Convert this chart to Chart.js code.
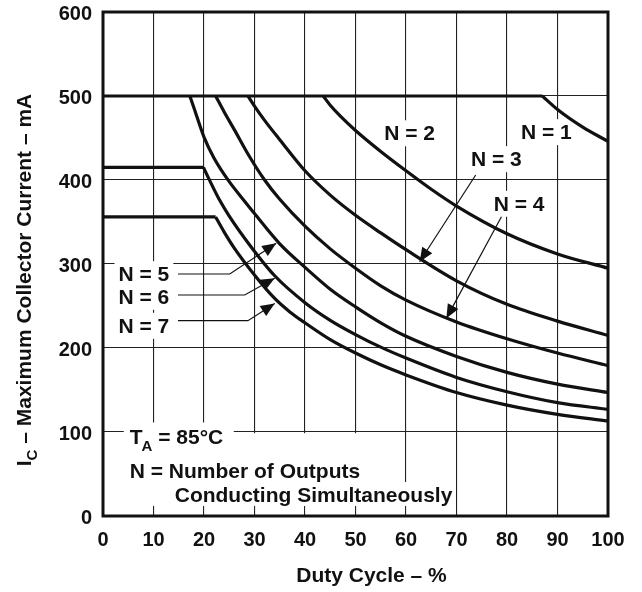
<!DOCTYPE html>
<html>
<head>
<meta charset="utf-8">
<script src="https://cdn.jsdelivr.net/npm/chart.js@4.4.1/dist/chart.umd.min.js"></script>
<style>
html,body{margin:0;padding:0;background:#fff;}
#wrap{width:642px;height:592px;position:relative;}
</style>
</head>
<body>
<div id="wrap"><canvas id="c" width="642" height="592"></canvas></div>
<script>
// ---- data ----
const xTicks = [0, 10, 20, 30, 40, 50, 60, 70, 80, 90, 100];
const yTicks = [0, 100, 200, 300, 400, 500, 600];

// flat (current-limited) segments: level and duty cycle where it ends
const flatLevels = [500, 415, 356];
const flatEnds   = [87, 19.9, 22.3];

// curves after the break point, per number of outputs N
const n1X = [87, 90, 95, 100];
const n1Y = [500, 484, 463, 446];
const n2X = [43.6, 45, 47, 50, 55, 60, 65, 70, 80, 90, 100];
const n2Y = [500, 489, 476, 459, 434, 411, 389, 369, 336, 312, 295];
const n3X = [28.7, 30, 32, 35, 40, 45, 50, 55, 60, 70, 80, 90, 100];
const n3Y = [500, 488, 471, 448, 411, 382, 358, 337, 317, 280, 252, 232, 215];
const n4X = [22.3, 24, 26, 29, 32, 35, 40, 45, 50, 55, 60, 70, 80, 90, 100];
const n4Y = [500, 481, 460, 428, 400, 377, 345, 318, 295, 274, 257, 231, 211, 194, 179];
const n5X = [17.2, 18, 20, 22, 25, 28, 30, 35, 40, 45, 50, 55, 60, 70, 80, 90, 100];
const n5Y = [500, 486, 451, 426, 398, 375, 360, 324, 296, 270, 249, 230, 214, 190, 171, 157, 147];
const n6X = [19.9, 21, 23, 25, 29, 34, 40, 45, 50, 55, 60, 70, 80, 90, 100];
const n6Y = [415, 401, 377, 357, 323, 286, 254, 233, 216, 201, 188, 165, 148, 135, 127];
const n7X = [22.3, 24, 26, 30, 34, 37, 40, 45, 50, 55, 60, 70, 80, 90, 100];
const n7Y = [356, 338, 319, 287, 259, 243, 230, 210, 194, 180, 168, 147, 132, 121, 113];

const curveLabels = ['N = 1', 'N = 2', 'N = 3', 'N = 4', 'N = 5', 'N = 6', 'N = 7'];
const xTitle = 'Duty Cycle \u2013 %';
const yTitleMain = 'I';
const yTitleSub = 'C';
const yTitleRest = ' \u2013 Maximum Collector Current \u2013 mA';
const noteLines = ['T', 'A', ' = 85\u00B0C', 'N = Number of Outputs', 'Conducting Simultaneously'];

// ---- build datasets ----
const FONT = '"Liberation Sans", Arial, Helvetica, sans-serif';
const INK = '#111';
function pts(xs, ys){ return xs.map((x, i) => ({x: x, y: ys[i]})); }
const datasets = [];
flatLevels.forEach((lv, i) => {
  datasets.push({ data: pts([0, flatEnds[i]], [lv, lv]), tension: 0 });
});
[[n1X,n1Y],[n2X,n2Y],[n3X,n3Y],[n4X,n4Y],[n5X,n5Y],[n6X,n6Y],[n7X,n7Y]].forEach((s, i) => {
  datasets.push({ label: curveLabels[i], data: pts(s[0], s[1]), cubicInterpolationMode: 'monotone' });
});
datasets.forEach(d => {
  d.showLine = true; d.borderColor = INK; d.borderWidth = 3.2; d.pointRadius = 0;
  d.pointHoverRadius = 0; d.fill = false;
});

// annotation placement in data units
const labelPos = [
  {t: 0, x: 87.8, y: 457}, {t: 1, x: 60.7, y: 455.6},
  {t: 2, x: 77.9, y: 424.8}, {t: 3, x: 82.4, y: 371.7}
];
const arrowPaths = [
  [[73.8, 405.9], [62.7, 302.7]],
  [[78.9, 356.3], [68.0, 235.3]],
  [[14.85, 288.1], [25.1, 288.1], [34.3, 324.6]],
  [[14.85, 263.1], [28.06, 263.1], [34.0, 283]],
  [[14.85, 232.5], [28.7, 232.5], [34.0, 253]]
];
const leftLabels = [{t: 4, x: 8.1, y: 287.9}, {t: 5, x: 8.1, y: 261}, {t: 6, x: 8.1, y: 226.4}];

const annot = {
  id: 'annot',
  beforeDatasetsDraw(chart) {
    const ctx = chart.ctx, sx = chart.scales.x, sy = chart.scales.y;
    ctx.save();
    ctx.fillStyle = '#fff';
    ctx.font = 'bold 21px ' + FONT;
    labelPos.concat(leftLabels).forEach(l => {
      const w = ctx.measureText(curveLabels[l.t]).width;
      const cx = sx.getPixelForValue(l.x), cy = sy.getPixelForValue(l.y);
      ctx.fillRect(cx - w / 2 - 4, cy - 13, w + 8, 26);
    });
    // note block
    const lx = sx.getPixelForValue(5.3);
    ctx.fillRect(lx - 6, sy.getPixelForValue(86.3) - 21, 110, 33);
    ctx.fillRect(lx - 6, sy.getPixelForValue(45) - 45, 246, 50);
    ctx.fillRect(lx + 18, sy.getPixelForValue(16.7) - 20, 300, 24);
    ctx.restore();
  },
  afterDatasetsDraw(chart) {
    const ctx = chart.ctx, sx = chart.scales.x, sy = chart.scales.y, a = chart.chartArea;
    ctx.save();
    ctx.fillStyle = INK;
    ctx.strokeStyle = INK;
    ctx.font = 'bold 21px ' + FONT;
    ctx.textAlign = 'center';
    ctx.textBaseline = 'middle';
    labelPos.concat(leftLabels).forEach(l => {
      ctx.fillText(curveLabels[l.t], sx.getPixelForValue(l.x), sy.getPixelForValue(l.y) + 1);
    });
    // arrows
    ctx.lineWidth = 1.2;
    arrowPaths.forEach(p => {
      const P = p.map(q => [sx.getPixelForValue(q[0]), sy.getPixelForValue(q[1])]);
      ctx.beginPath();
      ctx.moveTo(P[0][0], P[0][1]);
      for (let i = 1; i < P.length; i++) ctx.lineTo(P[i][0], P[i][1]);
      ctx.stroke();
      const b = P[P.length - 1], c = P[P.length - 2];
      const ang = Math.atan2(b[1] - c[1], b[0] - c[0]);
      const L = 14, W = 6;
      ctx.beginPath();
      ctx.moveTo(b[0], b[1]);
      ctx.lineTo(b[0] - L * Math.cos(ang) + W * Math.sin(ang), b[1] - L * Math.sin(ang) - W * Math.cos(ang));
      ctx.lineTo(b[0] - L * Math.cos(ang) - W * Math.sin(ang), b[1] - L * Math.sin(ang) + W * Math.cos(ang));
      ctx.closePath();
      ctx.fill();
    });
    // note text
    ctx.textAlign = 'left';
    ctx.textBaseline = 'alphabetic';
    const lx = sx.getPixelForValue(5.3);
    let by = sy.getPixelForValue(86.3);
    ctx.font = 'bold 21px ' + FONT;
    ctx.fillText(noteLines[0], lx, by);
    let w = ctx.measureText(noteLines[0]).width;
    ctx.font = 'bold 15px ' + FONT;
    ctx.fillText(noteLines[1], lx + w - 1, by + 7);
    w += ctx.measureText(noteLines[1]).width - 1;
    ctx.font = 'bold 21px ' + FONT;
    ctx.fillText(noteLines[2], lx + w, by);
    ctx.fillText(noteLines[3], lx, sy.getPixelForValue(45));
    ctx.fillText(noteLines[4], sx.getPixelForValue(14.2), sy.getPixelForValue(16.7));
    // frame
    ctx.lineWidth = 3;
    ctx.strokeRect(a.left, a.top, a.right - a.left, a.bottom - a.top);
    // x title
    ctx.font = 'bold 21px ' + FONT;
    ctx.textAlign = 'center';
    ctx.textBaseline = 'middle';
    ctx.fillText(xTitle, (a.left + a.right) / 2 + 16, 576);
    // y title with subscript
    ctx.translate(24, 280);
    ctx.rotate(-Math.PI / 2);
    ctx.font = 'bold 21px ' + FONT;
    const w1 = ctx.measureText(yTitleMain).width;
    const w3 = ctx.measureText(yTitleRest).width;
    ctx.font = 'bold 15px ' + FONT;
    const w2 = ctx.measureText(yTitleSub).width;
    const total = w1 + w2 + w3;
    let x0 = -total / 2;
    ctx.textAlign = 'left';
    ctx.textBaseline = 'alphabetic';
    ctx.font = 'bold 21px ' + FONT;
    ctx.fillText(yTitleMain, x0, 7);
    ctx.font = 'bold 15px ' + FONT;
    ctx.fillText(yTitleSub, x0 + w1, 13);
    ctx.font = 'bold 21px ' + FONT;
    ctx.fillText(yTitleRest, x0 + w1 + w2, 7);
    ctx.restore();
  }
};

new Chart(document.getElementById('c'), {
  type: 'scatter',
  data: { datasets: datasets },
  options: {
    responsive: false,
    animation: false,
    events: [],
    layout: { padding: { left: 0, right: 34, top: 12, bottom: 0 } },
    plugins: { legend: { display: false }, tooltip: { enabled: false }, title: { display: false } },
    scales: {
      x: {
        type: 'linear', min: 0, max: 100,
        afterBuildTicks: s => { s.ticks = xTicks.map(v => ({value: v})); },
        afterFit: s => { s.height = 76; s.paddingLeft = 0; s.paddingRight = 0; },
        ticks: { color: INK, font: { family: FONT, size: 20, weight: 'bold' }, padding: 12, maxRotation: 0, autoSkip: false },
        grid: { color: '#222', lineWidth: 1.1, drawTicks: false },
        border: { display: false }
      },
      y: {
        type: 'linear', min: 0, max: 600,
        afterBuildTicks: s => { s.ticks = yTicks.map(v => ({value: v})); },
        afterFit: s => { s.width = 103; s.paddingTop = 0; s.paddingBottom = 0; },
        ticks: { color: INK, font: { family: FONT, size: 20, weight: 'bold' }, padding: 11, labelOffset: 2, autoSkip: false },
        grid: { color: '#222', lineWidth: 1.1, drawTicks: false },
        border: { display: false }
      }
    }
  },
  plugins: [annot]
});
</script>
</body>
</html>
